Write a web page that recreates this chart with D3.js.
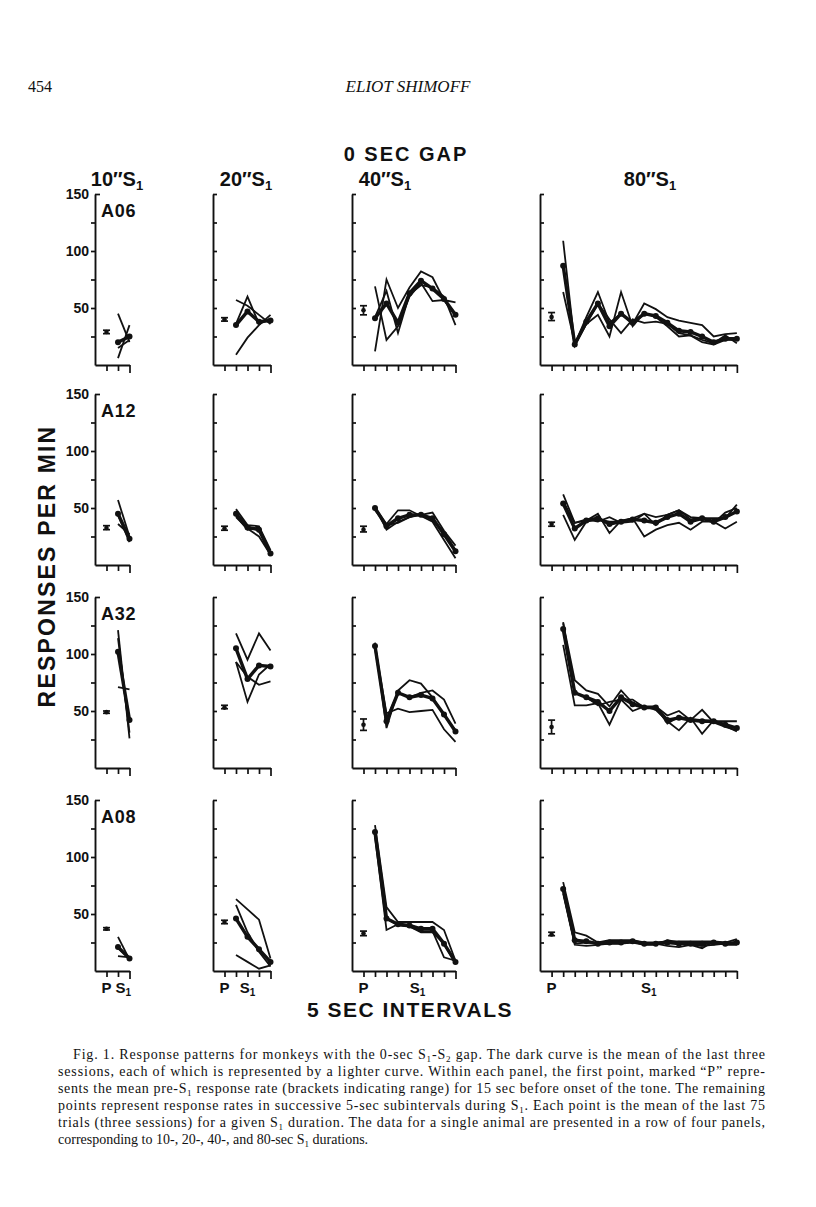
<!DOCTYPE html>
<html><head><meta charset="utf-8">
<script src="https://cdn.jsdelivr.net/npm/d3@7/dist/d3.min.js"></script>
<style>body{margin:0;background:#fff}svg{display:block}</style>
</head><body>
<svg id="c" width="816" height="1207"></svg>
<script>
// ---------- labels ----------
const animals = ["A06", "A12", "A32", "A08"];
const durations = [10, 20, 40, 80];
const yTickValues = [25, 50, 75, 100, 125, 150];
const yTickLabels = [50, 100, 150];

// ---------- data: P = [mean, low, high]; mean curve; three session curves ----------
const A06_10_P = [29, 27.5, 30.5];
const A06_10_mean = [20, 25];
const A06_10_sessions = [[45, 20], [6, 35], [15, 22]];
const A06_20_P = [40, 38.5, 41.5];
const A06_20_mean = [35, 47, 38, 39];
const A06_20_sessions = [[57, 52, 44, 36], [36, 60, 36, 40], [9, 24, 35, 44]];
const A06_40_P = [48, 44, 52];
const A06_40_mean = [41, 54, 37, 63, 74, 67, 58, 44];
const A06_40_sessions = [[12, 75, 50, 68, 82, 77, 57, 43], [69, 22, 34, 60, 72, 56, 57, 55], [42, 65, 28, 62, 70, 68, 60, 35]];
const A06_80_P = [42, 39, 46];
const A06_80_mean = [87, 18, 38, 54, 34, 45, 37, 45, 43, 37, 30, 29, 25, 20, 23, 23];
const A06_80_sessions = [
  [109, 18, 42, 64, 37, 45, 36, 54, 49, 42, 39, 37, 35, 25, 27, 28],
  [64, 19, 36, 44, 25, 64, 34, 46, 42, 34, 25, 26, 22, 19, 26, 19],
  [88, 17, 36, 54, 40, 28, 40, 37, 38, 36, 28, 26, 20, 18, 22, 22]];

const A12_10_P = [32.5, 31, 34.5];
const A12_10_mean = [45, 23];
const A12_10_sessions = [[57, 25], [36, 27], [44, 20]];
const A12_20_P = [32, 30.5, 34];
const A12_20_mean = [45, 33, 31, 10];
const A12_20_sessions = [[49, 35, 34, 13], [43, 31, 33, 8], [42, 32, 25, 9]];
const A12_40_P = [31, 29, 34];
const A12_40_mean = [50, 34, 41, 44, 44, 41, 27, 12];
const A12_40_sessions = [[50, 36, 48, 48, 43, 38, 22, 6], [51, 31, 38, 42, 44, 46, 30, 17], [48, 35, 37, 42, 45, 39, 29, 13]];
const A12_80_P = [36, 34, 37.5];
const A12_80_mean = [54, 32, 39, 41, 36, 38, 40, 39, 37, 42, 45, 38, 41, 38, 42, 47];
const A12_80_sessions = [
  [62, 37, 39, 45, 28, 39, 41, 45, 35, 44, 48, 42, 41, 41, 41, 53],
  [44, 22, 38, 40, 38, 38, 41, 25, 31, 35, 37, 31, 38, 38, 32, 38],
  [56, 37, 40, 38, 42, 37, 38, 45, 42, 44, 48, 40, 42, 37, 46, 50]];

const A32_10_P = [49, 48, 50];
const A32_10_mean = [102, 42];
const A32_10_sessions = [[121, 26], [71, 69], [114, 31]];
const A32_20_P = [53, 52, 55];
const A32_20_mean = [105, 78, 90, 89];
const A32_20_sessions = [[118, 95, 118, 103], [93, 58, 82, 91], [93, 80, 73, 76]];
const A32_40_P = [38, 33, 43];
const A32_40_mean = [107, 41, 66, 62, 64, 61, 47, 32];
const A32_40_sessions = [[110, 35, 68, 77, 74, 62, 46, 33], [107, 48, 52, 49, 50, 51, 34, 23], [105, 43, 66, 62, 66, 68, 60, 39]];
const A32_80_P = [36, 30, 42];
const A32_80_mean = [122, 66, 62, 58, 50, 62, 56, 53, 53, 42, 44, 42, 41, 41, 38, 35];
const A32_80_sessions = [
  [127, 77, 68, 65, 54, 68, 57, 54, 54, 39, 45, 43, 42, 41, 41, 41],
  [108, 55, 55, 57, 38, 60, 50, 54, 51, 41, 33, 44, 30, 42, 37, 32],
  [128, 66, 62, 55, 58, 60, 60, 53, 54, 46, 50, 42, 51, 40, 36, 33]];

const A08_10_P = [37, 36, 38];
const A08_10_mean = [21, 11];
const A08_10_sessions = [[30, 10], [13, 12], [20, 11]];
const A08_20_P = [43, 41.5, 44.5];
const A08_20_mean = [46, 30, 19, 8];
const A08_20_sessions = [[63, 54, 45, 11], [58, 34, 17, 4], [14, 8, 2, 5]];
const A08_40_P = [33, 31, 35];
const A08_40_mean = [122, 46, 41, 40, 37, 37, 24, 8];
const A08_40_sessions = [[128, 56, 43, 43, 43, 43, 36, 9], [118, 36, 41, 39, 34, 34, 24, 6], [120, 46, 40, 39, 35, 35, 12, 9]];
const A08_80_P = [32, 31, 34];
const A08_80_mean = [72, 27, 26, 24, 25, 25, 26, 24, 24, 25, 24, 24, 24, 25, 24, 25];
const A08_80_sessions = [
  [78, 34, 31, 25, 27, 27, 27, 25, 25, 26, 26, 26, 26, 26, 25, 28],
  [70, 24, 25, 24, 24, 24, 26, 24, 24, 22, 21, 23, 22, 23, 24, 24],
  [68, 23, 22, 23, 24, 24, 25, 23, 23, 27, 25, 23, 20, 26, 23, 23]];

const captionLines = [
  "Fig. 1. Response patterns for monkeys with the 0-sec S_1-S_2 gap. The dark curve is the mean of the last three",
  "sessions, each of which is represented by a lighter curve. Within each panel, the first point, marked \u201CP\u201D repre-",
  "sents the mean pre-S_1 response rate (brackets indicating range) for 15 sec before onset of the tone. The remaining",
  "points represent response rates in successive 5-sec subintervals during S_1. Each point is the mean of the last 75",
  "trials (three sessions) for a given S_1 duration. The data for a single animal are presented in a row of four panels,",
  "corresponding to 10-, 20-, 40-, and 80-sec S_1 durations."
];

// ---------- assemble ----------
const panelData = {
  A06: [[A06_10_P, A06_10_mean, A06_10_sessions], [A06_20_P, A06_20_mean, A06_20_sessions], [A06_40_P, A06_40_mean, A06_40_sessions], [A06_80_P, A06_80_mean, A06_80_sessions]],
  A12: [[A12_10_P, A12_10_mean, A12_10_sessions], [A12_20_P, A12_20_mean, A12_20_sessions], [A12_40_P, A12_40_mean, A12_40_sessions], [A12_80_P, A12_80_mean, A12_80_sessions]],
  A32: [[A32_10_P, A32_10_mean, A32_10_sessions], [A32_20_P, A32_20_mean, A32_20_sessions], [A32_40_P, A32_40_mean, A32_40_sessions], [A32_80_P, A32_80_mean, A32_80_sessions]],
  A08: [[A08_10_P, A08_10_mean, A08_10_sessions], [A08_20_P, A08_20_mean, A08_20_sessions], [A08_40_P, A08_40_mean, A08_40_sessions], [A08_80_P, A08_80_mean, A08_80_sessions]]
};

// ---------- layout ----------
const ink = "#111";
const sans = "'Liberation Sans', Arial, Helvetica, sans-serif";
const serif = "'Liberation Serif', 'Times New Roman', serif";
const rowBottom = [365, 565, 768, 971];
const colAxisX = [95, 213, 352, 540];
const colStep = [11.5, 11.5, 11.5, 11.58];
const plotH = 171;
const titleX = [117, 246, 385, 650];
const sLabelPos = [2.45, 3, 5.7, 9.4];

const svg = d3.select("#c");
svg.append("rect").attr("width", 816).attr("height", 1207).attr("fill", "#fff");

// header
svg.append("text").attr("x", 28).attr("y", 92).attr("font-family", serif).attr("font-size", 16).attr("fill", ink).text("454");
svg.append("text").attr("x", 408).attr("y", 92).attr("text-anchor", "middle").attr("font-family", serif)
  .attr("font-style", "italic").attr("font-size", 17).attr("fill", ink).text("ELIOT SHIMOFF");

svg.append("text").attr("x", 406).attr("y", 161).attr("text-anchor", "middle").attr("font-family", sans)
  .attr("font-weight", "bold").attr("font-size", 20).attr("letter-spacing", 2).attr("fill", ink).text("0 SEC GAP");

durations.forEach((d, c) => {
  const t = svg.append("text").attr("x", titleX[c]).attr("y", 186).attr("text-anchor", "middle")
    .attr("font-family", sans).attr("font-weight", "bold").attr("font-size", 20).attr("fill", ink);
  t.append("tspan").text(d + "\u2033S");
  t.append("tspan").attr("font-size", 13).attr("dy", 4).text("1");
});

// y title
svg.append("text").attr("transform", "translate(55,566) rotate(-90)").attr("text-anchor", "middle")
  .attr("font-family", sans).attr("font-weight", "bold").attr("font-size", 23).attr("letter-spacing", 2.2)
  .attr("fill", ink).text("RESPONSES  PER  MIN");

// x title
svg.append("text").attr("x", 410).attr("y", 1017).attr("text-anchor", "middle").attr("font-family", sans)
  .attr("font-weight", "bold").attr("font-size", 21).attr("letter-spacing", 1.5).attr("fill", ink).text("5 SEC  INTERVALS");

// panels
animals.forEach((an, r) => {
  durations.forEach((d, c) => {
    const [P, mean, sessions] = panelData[an][c];
    const n = mean.length;
    const x0 = colAxisX[c];
    const x = d3.scaleLinear().domain([0, n + 1]).range([x0, x0 + colStep[c] * (n + 1)]);
    const y = d3.scaleLinear().domain([0, 150]).range([rowBottom[r], rowBottom[r] - plotH]);
    const g = svg.append("g");

    // y axis
    let ya;
    if (c === 0) {
      ya = d3.axisLeft(y).tickValues(yTickValues).tickSize(4).tickSizeOuter(0)
        .tickFormat(v => yTickLabels.includes(v) ? v : "");
    } else {
      ya = d3.axisRight(y).tickValues(yTickValues).tickSize(4).tickSizeOuter(0).tickFormat("");
    }
    const yg = g.append("g").attr("transform", `translate(${x0},0)`).call(ya);
    if (c === 0) yg.selectAll(".tick").filter(v => v === 150).select("line").attr("x2", 5);
    yg.select(".domain").attr("stroke", ink).attr("stroke-width", 1.9);
    yg.selectAll(".tick line").attr("stroke", ink).attr("stroke-width", 1.7);
    yg.selectAll(".tick text").attr("font-family", sans).attr("font-weight", "bold")
      .attr("font-size", 14).attr("fill", ink).attr("x", -6);

    // x axis
    const xa = d3.axisBottom(x).tickValues(d3.range(1, n + 2)).tickSize(6).tickSizeOuter(0).tickFormat("");
    const xg = g.append("g").attr("transform", `translate(0,${rowBottom[r]})`).call(xa);
    xg.select(".domain").attr("stroke", ink).attr("stroke-width", 1.9);
    xg.selectAll(".tick line").attr("stroke", ink).attr("stroke-width", 1.7);
    xg.selectAll(".tick").filter(v => v === n + 1).select("line").attr("y2", 8);

    if (r === animals.length - 1) {
      g.append("text").attr("x", x(1)).attr("y", rowBottom[r] + 22).attr("text-anchor", "middle")
        .attr("font-family", sans).attr("font-weight", "bold").attr("font-size", 15).attr("fill", ink).text("P");
      const s = g.append("text").attr("x", x(sLabelPos[c])).attr("y", rowBottom[r] + 22).attr("text-anchor", "middle")
        .attr("font-family", sans).attr("font-weight", "bold").attr("font-size", 15).attr("fill", ink);
      s.append("tspan").text("S");
      s.append("tspan").attr("font-size", 10).attr("dy", 3).text("1");
    }

    if (c === 0) {
      g.append("text").attr("x", x0 + 6).attr("y", rowBottom[r] - plotH + 23).attr("font-family", sans)
        .attr("font-weight", "bold").attr("font-size", 18).attr("letter-spacing", 0.8).attr("fill", ink).text(an);
    }

    const line = d3.line().x((v, i) => x(i + 2)).y(v => y(v));
    g.selectAll("path.sess").data(sessions).enter().append("path").attr("class", "sess")
      .attr("d", line).attr("fill", "none").attr("stroke", ink).attr("stroke-width", 1.8)
      .attr("stroke-linejoin", "miter");
    g.append("path").attr("d", line(mean)).attr("fill", "none").attr("stroke", ink).attr("stroke-width", 3.4)
      .attr("stroke-linejoin", "round");
    g.selectAll("circle.m").data(mean).enter().append("circle").attr("class", "m")
      .attr("cx", (v, i) => x(i + 2)).attr("cy", v => y(v)).attr("r", 3).attr("fill", ink);

    // P bracket
    const px = x(1);
    const pb = g.append("g").attr("stroke", ink).attr("stroke-width", 1.7);
    pb.append("line").attr("x1", px).attr("x2", px).attr("y1", y(P[1])).attr("y2", y(P[2]));
    pb.append("line").attr("x1", px - 3.5).attr("x2", px + 3.5).attr("y1", y(P[1])).attr("y2", y(P[1]));
    pb.append("line").attr("x1", px - 3.5).attr("x2", px + 3.5).attr("y1", y(P[2])).attr("y2", y(P[2]));
    g.append("circle").attr("cx", px).attr("cy", y(P[0])).attr("r", 2.3).attr("fill", ink);
  });
});

// caption
const capX = 58, capRight = 765, capY0 = 1059, capDy = 17;
captionLines.forEach((ln, i) => {
  const x0 = i === 0 ? 73 : capX;
  const t = svg.append("text").attr("x", x0).attr("y", capY0 + i * capDy)
    .attr("font-family", serif).attr("font-size", 14).attr("fill", ink);
  if (i < captionLines.length - 1) t.attr("textLength", capRight - x0).attr("lengthAdjust", "spacing");
  const parts = ln.split(/_(\d)/);
  let shifted = false;
  parts.forEach((p, k) => {
    if (k % 2 === 1) {
      t.append("tspan").attr("font-size", 9).attr("dy", 3).text(p);
      shifted = true;
    } else if (p.length) {
      const ts = t.append("tspan").text(p);
      if (shifted) { ts.attr("dy", -3); shifted = false; }
    }
  });
});
</script>
</body></html>
